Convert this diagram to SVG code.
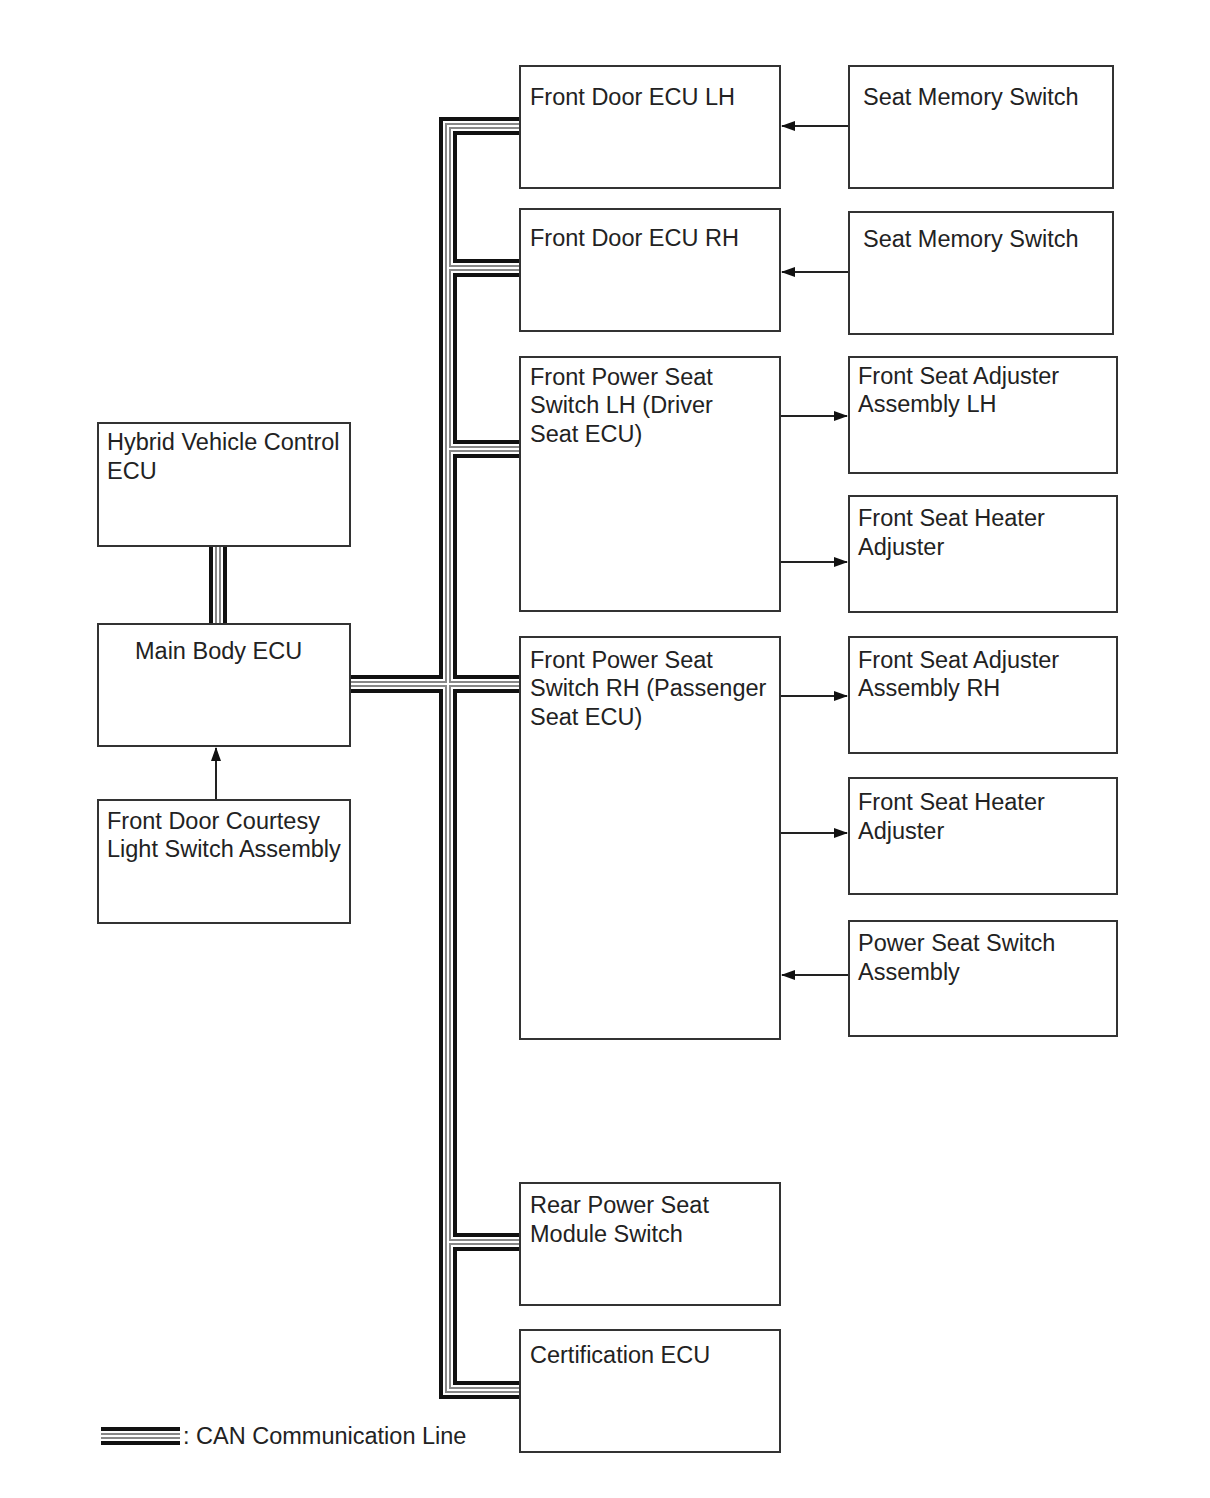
<svg xmlns="http://www.w3.org/2000/svg" width="1210" height="1498" viewBox="0 0 1210 1498">
<style>
.box{fill:#fff;stroke:#333;stroke-width:2}
.t{font-family:"Liberation Sans",Arial,sans-serif;font-size:23.5px;fill:#222}
.arr{stroke:#222;stroke-width:2;fill:none;marker-end:url(#ah)}
.b1{stroke:#111;stroke-width:18;fill:none}
.b2{stroke:#fff;stroke-width:10;fill:none}
.b3{stroke:#888;stroke-width:6;fill:none}
.b4{stroke:#fff;stroke-width:2;fill:none}
</style>
<defs>
<marker id="ah" markerUnits="userSpaceOnUse" markerWidth="14" markerHeight="10" refX="13" refY="5" orient="auto">
<path d="M0,0 L14,5 L0,10 Z" fill="#111"/>
</marker>
<path id="bus" d="M520 126 H448 V1390 H520 M448 268 H520 M448 449 H520 M351 684 H520 M448 1242 H520 M218 546 V624 M101 1436 H180"/>
</defs>
<rect width="1210" height="1498" fill="#fff"/>
<g id="connectors">
<use href="#bus" class="b1"/>
<use href="#bus" class="b2"/>
<use href="#bus" class="b3"/>
<use href="#bus" class="b4"/>
<path class="arr" d="M849 126 H782"/>
<path class="arr" d="M849 272 H782"/>
<path class="arr" d="M781 416 H847"/>
<path class="arr" d="M781 562 H847"/>
<path class="arr" d="M781 696 H847"/>
<path class="arr" d="M781 833 H847"/>
<path class="arr" d="M849 975 H782"/>
<path class="arr" d="M216 800 V748"/>
</g>
<g id="front-door-ecu-lh"><rect class="box" x="520" y="66" width="260" height="122"/><text class="t" x="530" y="105">Front Door ECU LH</text></g>
<g id="seat-memory-switch-1"><rect class="box" x="849" y="66" width="264" height="122"/><text class="t" x="863" y="105">Seat Memory Switch</text></g>
<g id="front-door-ecu-rh"><rect class="box" x="520" y="209" width="260" height="122"/><text class="t" x="530" y="246">Front Door ECU RH</text></g>
<g id="seat-memory-switch-2"><rect class="box" x="849" y="212" width="264" height="122"/><text class="t" x="863" y="247">Seat Memory Switch</text></g>
<g id="front-power-seat-lh"><rect class="box" x="520" y="357" width="260" height="254"/><text class="t" x="530" y="385">Front Power Seat</text><text class="t" x="530" y="413">Switch LH (Driver</text><text class="t" x="530" y="442">Seat ECU)</text></g>
<g id="front-seat-adjuster-lh"><rect class="box" x="849" y="357" width="268" height="116"/><text class="t" x="858" y="384">Front Seat Adjuster</text><text class="t" x="858" y="412">Assembly LH</text></g>
<g id="front-seat-heater-1"><rect class="box" x="849" y="496" width="268" height="116"/><text class="t" x="858" y="526">Front Seat Heater</text><text class="t" x="858" y="555">Adjuster</text></g>
<g id="front-power-seat-rh"><rect class="box" x="520" y="637" width="260" height="402"/><text class="t" x="530" y="668">Front Power Seat</text><text class="t" x="530" y="696">Switch RH (Passenger</text><text class="t" x="530" y="725">Seat ECU)</text></g>
<g id="front-seat-adjuster-rh"><rect class="box" x="849" y="637" width="268" height="116"/><text class="t" x="858" y="668">Front Seat Adjuster</text><text class="t" x="858" y="696">Assembly RH</text></g>
<g id="front-seat-heater-2"><rect class="box" x="849" y="778" width="268" height="116"/><text class="t" x="858" y="810">Front Seat Heater</text><text class="t" x="858" y="839">Adjuster</text></g>
<g id="power-seat-switch"><rect class="box" x="849" y="921" width="268" height="115"/><text class="t" x="858" y="951">Power Seat Switch</text><text class="t" x="858" y="980">Assembly</text></g>
<g id="rear-power-seat"><rect class="box" x="520" y="1183" width="260" height="122"/><text class="t" x="530" y="1213">Rear Power Seat</text><text class="t" x="530" y="1242">Module Switch</text></g>
<g id="certification-ecu"><rect class="box" x="520" y="1330" width="260" height="122"/><text class="t" x="530" y="1363">Certification ECU</text></g>
<g id="hybrid-ecu"><rect class="box" x="98" y="423" width="252" height="123"/><text class="t" x="107" y="450">Hybrid Vehicle Control</text><text class="t" x="107" y="479">ECU</text></g>
<g id="main-body-ecu"><rect class="box" x="98" y="624" width="252" height="122"/><text class="t" x="135" y="659">Main Body ECU</text></g>
<g id="courtesy-switch"><rect class="box" x="98" y="800" width="252" height="123"/><text class="t" x="107" y="829">Front Door Courtesy</text><text class="t" x="107" y="857">Light Switch Assembly</text></g>
<g id="legend"><text class="t" x="183" y="1444">: CAN Communication Line</text></g>
</svg>
